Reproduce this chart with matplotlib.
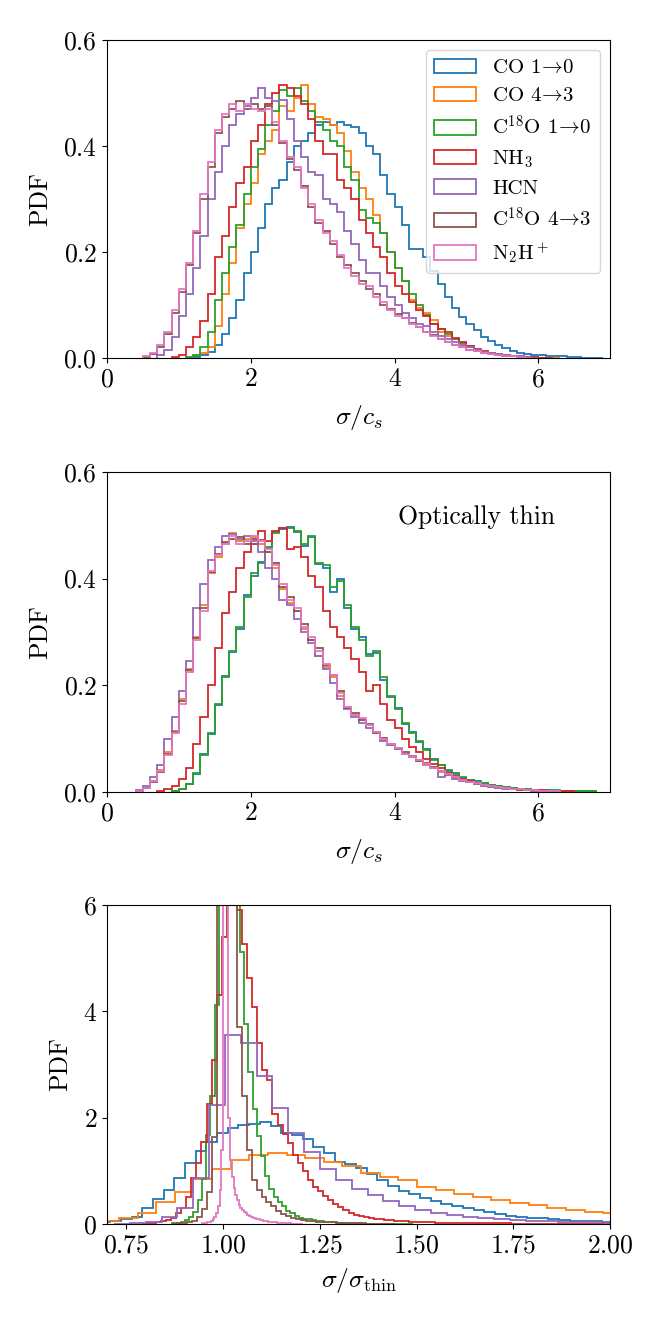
"""
Velocity dispersion PDFs for the different tracers.
"""

import numpy as np
import matplotlib
matplotlib.use('Agg')
import matplotlib.pyplot as plt

labels = ['CO 1$\\!\\rightarrow\\!$0', 'CO 4$\\!\\rightarrow\\!$3', 'C$^{18}$O 1$\\!\\rightarrow\\!$0', 'NH$_3$',
          'HCN', 'C$^{18}$O 4$\\!\\rightarrow\\!$3', 'N$_2$H$^+$']
colors = ['C0', 'C1', 'C2', 'C3', 'C4', 'C5', 'C6']

# ---- top panel: sigma / c_s, bins of 0.1 (start edge, values)
width_cs = 0.1
co10_cs = (1.2, [0.002, 0.005, 0.012, 0.025, 0.045, 0.075, 0.11, 0.16, 0.20, 0.245, 0.29, 0.32, 0.335, 0.37,
                 0.40, 0.41, 0.425, 0.44, 0.445, 0.44, 0.445, 0.44, 0.435, 0.425, 0.40, 0.385, 0.345, 0.31,
                 0.285, 0.25, 0.205, 0.205, 0.19, 0.165, 0.14, 0.115, 0.095, 0.078, 0.065, 0.053, 0.04,
                 0.032, 0.024, 0.018, 0.013, 0.01, 0.008, 0.006, 0.005, 0.004, 0.003, 0.003, 0.002, 0.002,
                 0.001, 0.001, 0.001])
co43_cs = (1.1, [0.002, 0.005, 0.01, 0.02, 0.06, 0.12, 0.18, 0.245, 0.29, 0.33, 0.385, 0.41, 0.43, 0.475,
                 0.465, 0.49, 0.515, 0.48, 0.455, 0.45, 0.44, 0.425, 0.39, 0.35, 0.32, 0.30, 0.27, 0.235,
                 0.20, 0.17, 0.145, 0.11, 0.095, 0.085, 0.072, 0.05, 0.042, 0.035, 0.026, 0.02, 0.015,
                 0.012, 0.009, 0.007, 0.005, 0.004, 0.003, 0.002, 0.002, 0.001, 0.001, 0.001])
c18o10_cs = (1.1, [0.002, 0.005, 0.02, 0.05, 0.11, 0.16, 0.21, 0.25, 0.31, 0.36, 0.395, 0.44, 0.465, 0.505,
                   0.495, 0.51, 0.485, 0.465, 0.445, 0.43, 0.41, 0.40, 0.36, 0.335, 0.28, 0.265, 0.255,
                   0.235, 0.20, 0.17, 0.145, 0.12, 0.10, 0.082, 0.065, 0.055, 0.045, 0.036, 0.028, 0.022,
                   0.016, 0.012, 0.009, 0.007, 0.005, 0.004, 0.003, 0.002, 0.001, 0.001])
nh3_cs = (0.9, [0.002, 0.005, 0.02, 0.04, 0.07, 0.12, 0.19, 0.23, 0.285, 0.33, 0.36, 0.41, 0.44, 0.48, 0.50,
                0.515, 0.51, 0.495, 0.48, 0.45, 0.41, 0.385, 0.385, 0.335, 0.32, 0.30, 0.26, 0.235, 0.21,
                0.19, 0.16, 0.135, 0.12, 0.105, 0.09, 0.08, 0.065, 0.055, 0.05, 0.038, 0.03, 0.022, 0.017,
                0.013, 0.01, 0.008, 0.006, 0.004, 0.003, 0.002, 0.002, 0.001, 0.001])
hcn_cs = (0.7, [0.005, 0.015, 0.04, 0.08, 0.12, 0.17, 0.23, 0.30, 0.35, 0.40, 0.44, 0.46, 0.475, 0.49, 0.51,
                0.49, 0.485, 0.487, 0.45, 0.41, 0.38, 0.35, 0.345, 0.30, 0.29, 0.275, 0.24, 0.215, 0.185,
                0.16, 0.16, 0.135, 0.115, 0.10, 0.085, 0.075, 0.065, 0.06, 0.05, 0.042, 0.036, 0.03, 0.025,
                0.02, 0.015, 0.012, 0.009, 0.007, 0.005, 0.004, 0.003, 0.002, 0.001])
c18o43_cs = (0.5, [0.002, 0.008, 0.02, 0.045, 0.085, 0.125, 0.175, 0.235, 0.30, 0.36, 0.425, 0.455, 0.47,
                   0.485, 0.47, 0.48, 0.47, 0.475, 0.44, 0.405, 0.375, 0.355, 0.325, 0.285, 0.255, 0.24,
                   0.215, 0.19, 0.175, 0.16, 0.145, 0.13, 0.12, 0.10, 0.092, 0.083, 0.075, 0.067, 0.058,
                   0.05, 0.043, 0.036, 0.03, 0.025, 0.02, 0.016, 0.013, 0.01, 0.008, 0.006, 0.004, 0.003,
                   0.002, 0.001])
n2h_cs = (0.5, [0.003, 0.01, 0.025, 0.05, 0.09, 0.13, 0.18, 0.24, 0.31, 0.37, 0.43, 0.46, 0.48, 0.465, 0.48,
                0.47, 0.465, 0.47, 0.445, 0.41, 0.38, 0.36, 0.32, 0.29, 0.26, 0.235, 0.22, 0.195, 0.17,
                0.155, 0.14, 0.135, 0.115, 0.105, 0.09, 0.08, 0.075, 0.065, 0.058, 0.05, 0.042, 0.035, 0.03,
                0.025, 0.02, 0.016, 0.013, 0.01, 0.008, 0.006, 0.004, 0.003, 0.002, 0.001])

# ---- middle panel: optically thin sigma / c_s
co10_thin = (0.9, [0.002, 0.006, 0.014, 0.034, 0.072, 0.108, 0.163, 0.218, 0.262, 0.305, 0.37, 0.405,
                   0.432, 0.458, 0.487, 0.493, 0.497, 0.487, 0.462, 0.478, 0.428, 0.42, 0.375, 0.40, 0.345,
                   0.305, 0.29, 0.258, 0.26, 0.21, 0.178, 0.158, 0.128, 0.112, 0.093, 0.08, 0.062, 0.05,
                   0.04, 0.035, 0.027, 0.023, 0.02, 0.016, 0.013, 0.011, 0.009, 0.008, 0.006, 0.005, 0.004,
                   0.003, 0.003, 0.002, 0.002, 0.002, 0.001, 0.001, 0.001])
co43_thin = (0.4, [0.002, 0.007, 0.02, 0.042, 0.075, 0.115, 0.175, 0.23, 0.29, 0.35, 0.41, 0.44, 0.465,
                   0.485, 0.47, 0.475, 0.478, 0.465, 0.45, 0.42, 0.38, 0.355, 0.34, 0.305, 0.285, 0.255,
                   0.235, 0.215, 0.18, 0.16, 0.145, 0.135, 0.125, 0.11, 0.098, 0.088, 0.08, 0.072, 0.065,
                   0.058, 0.05, 0.044, 0.038, 0.032, 0.027, 0.022, 0.018, 0.015, 0.012, 0.01, 0.008, 0.007,
                   0.005, 0.004, 0.003, 0.002, 0.002, 0.001, 0.001])
c18o10_thin = (0.9, [0.002, 0.006, 0.015, 0.035, 0.07, 0.11, 0.165, 0.215, 0.265, 0.31, 0.365, 0.41, 0.43,
                     0.46, 0.485, 0.495, 0.495, 0.49, 0.465, 0.48, 0.43, 0.425, 0.385, 0.395, 0.35, 0.31,
                     0.285, 0.255, 0.265, 0.215, 0.18, 0.155, 0.13, 0.11, 0.095, 0.078, 0.06, 0.05, 0.042,
                     0.034, 0.028, 0.023, 0.019, 0.016, 0.013, 0.011, 0.009, 0.007, 0.006, 0.005, 0.004,
                     0.004, 0.003, 0.003, 0.002, 0.002, 0.001, 0.001, 0.001])
nh3_thin = (0.7, [0.002, 0.006, 0.012, 0.025, 0.045, 0.09, 0.14, 0.20, 0.27, 0.335, 0.375, 0.42, 0.45, 0.465,
                  0.49, 0.47, 0.49, 0.495, 0.455, 0.46, 0.44, 0.405, 0.385, 0.34, 0.31, 0.29, 0.27, 0.25,
                  0.225, 0.19, 0.20, 0.165, 0.135, 0.12, 0.10, 0.085, 0.075, 0.062, 0.052, 0.045, 0.036,
                  0.03, 0.025, 0.02, 0.016, 0.013, 0.011, 0.009, 0.007, 0.006, 0.005, 0.004, 0.003, 0.003,
                  0.002, 0.002, 0.001, 0.001])
hcn_thin = (0.4, [0.003, 0.012, 0.028, 0.05, 0.10, 0.14, 0.19, 0.245, 0.345, 0.39, 0.435, 0.46, 0.48, 0.483,
                  0.475, 0.48, 0.47, 0.45, 0.42, 0.40, 0.36, 0.35, 0.325, 0.30, 0.28, 0.255, 0.23, 0.205,
                  0.175, 0.155, 0.14, 0.13, 0.12, 0.112, 0.095, 0.088, 0.08, 0.072, 0.068, 0.06, 0.055,
                  0.045, 0.028, 0.032, 0.025, 0.021, 0.018, 0.015, 0.012, 0.01, 0.008, 0.006, 0.005, 0.004,
                  0.003, 0.002, 0.001])
c18o43_thin = (0.4, [0.002, 0.007, 0.018, 0.038, 0.072, 0.112, 0.17, 0.228, 0.288, 0.345, 0.412, 0.447,
                     0.468, 0.475, 0.478, 0.465, 0.475, 0.472, 0.45, 0.43, 0.385, 0.365, 0.34, 0.315, 0.285,
                     0.27, 0.238, 0.22, 0.19, 0.158, 0.148, 0.135, 0.128, 0.11, 0.102, 0.09, 0.083, 0.074,
                     0.066, 0.058, 0.053, 0.046, 0.039, 0.034, 0.028, 0.023, 0.019, 0.016, 0.013, 0.011,
                     0.009, 0.007, 0.006, 0.004, 0.003, 0.003, 0.002, 0.001, 0.001])
n2h_thin = (0.4, [0.002, 0.008, 0.02, 0.04, 0.07, 0.11, 0.165, 0.225, 0.285, 0.34, 0.415, 0.445, 0.465, 0.48,
                  0.465, 0.47, 0.48, 0.47, 0.455, 0.425, 0.39, 0.36, 0.345, 0.31, 0.29, 0.265, 0.24, 0.22,
                  0.185, 0.16, 0.145, 0.138, 0.125, 0.112, 0.10, 0.09, 0.082, 0.072, 0.066, 0.06, 0.052,
                  0.045, 0.04, 0.033, 0.028, 0.023, 0.019, 0.016, 0.013, 0.011, 0.009, 0.007, 0.006, 0.005,
                  0.004, 0.003, 0.002, 0.002, 0.001])

# ---- bottom panel: sigma / sigma_thin (start edge, bin width, values)
co10_ratio = (0.681, 0.0276, [0.03, 0.05, 0.09, 0.13, 0.30, 0.47, 0.64, 0.86, 1.14, 1.38, 1.55, 1.72, 1.80,
                              1.86, 1.89, 1.92, 1.84, 1.71, 1.67, 1.59, 1.45, 1.34, 1.17, 1.13, 1.05, 0.94,
                              0.82, 0.72, 0.62, 0.56, 0.48, 0.43, 0.38, 0.33, 0.30, 0.26, 0.22, 0.19, 0.16,
                              0.14, 0.12, 0.11, 0.09, 0.075, 0.065, 0.055, 0.048, 0.045])
co43_ratio = (0.683, 0.0481, [0.06, 0.11, 0.20, 0.42, 0.61, 0.84, 1.04, 1.20, 1.30, 1.33, 1.30, 1.25, 1.17,
                              1.09, 0.96, 0.88, 0.83, 0.69, 0.64, 0.56, 0.50, 0.45, 0.39, 0.35, 0.30, 0.26,
                              0.23, 0.20])
c18o10_ratio = (0.869, 0.0109, [0.01, 0.02, 0.04, 0.08, 0.14, 0.22, 0.45, 0.85, 1.68, 2.40, 4.12, 8.5, 12.0,
                                13.0, 11.0, 8.5, 5.12, 3.77, 2.86, 2.17, 1.65, 1.27, 0.90, 0.66, 0.50, 0.42,
                                0.34, 0.25, 0.20, 0.16, 0.12, 0.10, 0.085, 0.07, 0.06, 0.05, 0.04, 0.035,
                                0.03, 0.025, 0.02, 0.017, 0.015, 0.012, 0.01, 0.009, 0.008, 0.007, 0.006,
                                0.005, 0.004, 0.004, 0.003, 0.003, 0.002, 0.002, 0.001])
nh3_ratio = (0.787, 0.0131, [0.005, 0.01, 0.02, 0.03, 0.05, 0.07, 0.11, 0.20, 0.30, 0.51, 0.86, 1.15, 1.55,
                             2.25, 3.09, 4.30, 5.40, 7.6, 7.9, 5.9, 5.26, 4.62, 4.08, 3.40, 2.90, 2.70, 2.06,
                             1.87, 1.70, 1.53, 1.30, 1.15, 0.99, 0.83, 0.70, 0.63, 0.52, 0.45, 0.38, 0.32,
                             0.26, 0.20, 0.17, 0.15, 0.13, 0.11, 0.095, 0.085, 0.075, 0.07, 0.06, 0.055,
                             0.05, 0.045, 0.04, 0.038, 0.035, 0.03, 0.028, 0.026, 0.024, 0.022, 0.02, 0.019,
                             0.018, 0.016, 0.015, 0.014, 0.013, 0.012, 0.011, 0.01, 0.01, 0.009, 0.008,
                             0.008, 0.007, 0.007, 0.006, 0.006, 0.005, 0.005, 0.005, 0.004, 0.004, 0.004,
                             0.003, 0.003, 0.003, 0.003, 0.002, 0.002, 0.002])
hcn_ratio = (0.7187, 0.0409, [0.003, 0.01, 0.04, 0.13, 0.30, 0.87, 2.23, 3.55, 3.40, 2.78, 2.18, 1.71, 1.36,
                              1.03, 0.83, 0.66, 0.55, 0.43, 0.33, 0.26, 0.20, 0.17, 0.14, 0.12, 0.094, 0.075,
                              0.065, 0.055, 0.045, 0.04, 0.03, 0.025])
c18o43_ratio = (0.869, 0.0128, [0.005, 0.01, 0.02, 0.04, 0.06, 0.13, 0.28, 0.60, 1.64, 9.0, 14.0, 15.0, 10.0,
                                3.70, 2.40, 1.40, 0.83, 0.64, 0.50, 0.42, 0.33, 0.25, 0.19, 0.15, 0.12, 0.10,
                                0.08, 0.065, 0.055, 0.045, 0.04, 0.035, 0.03, 0.025, 0.02, 0.017, 0.015,
                                0.012, 0.01, 0.008, 0.006, 0.005, 0.004, 0.003, 0.002])
n2h_ratio = (0.946, 0.0045, [0.01, 0.015, 0.02, 0.03, 0.04, 0.06, 0.09, 0.13, 0.20, 0.33, 0.64, 1.4, 7.0,
                             14.0, 9.0, 2.0, 1.2, 0.89, 0.67, 0.55, 0.45, 0.36, 0.30, 0.26, 0.22, 0.20,
                             0.17, 0.15, 0.14, 0.12, 0.11, 0.10, 0.09, 0.08, 0.07, 0.065, 0.06, 0.05, 0.045,
                             0.04, 0.035, 0.03, 0.03, 0.025, 0.02, 0.02, 0.015, 0.015, 0.012, 0.01, 0.01,
                             0.008, 0.007, 0.006, 0.005, 0.004, 0.003, 0.002])

top_series = [co10_cs, co43_cs, c18o10_cs, nh3_cs, hcn_cs, c18o43_cs, n2h_cs]
mid_series = [co10_thin, co43_thin, c18o10_thin, nh3_thin, hcn_thin, c18o43_thin, n2h_thin]
bot_series = [co10_ratio, co43_ratio, c18o10_ratio, nh3_ratio, hcn_ratio, c18o43_ratio, n2h_ratio]


def step_hist(ax, start, width, vals, color, label=None):
    vals = np.asarray(vals)
    edges = start + width * np.arange(len(vals) + 1)
    centers = 0.5 * (edges[:-1] + edges[1:])
    ax.hist(centers, bins=edges, weights=vals, histtype='step', color=color, lw=1.3, label=label)


if __name__ == "__main__":
    plt.rcParams['font.family'] = 'serif'
    plt.rcParams['font.serif'] = ['cmr10']
    plt.rcParams['mathtext.fontset'] = 'cm'
    plt.rcParams['axes.formatter.use_mathtext'] = True
    plt.rcParams['font.size'] = 18.5

    fig = plt.figure(figsize=(6.64, 13.29), dpi=100)
    ax1 = fig.add_axes([0.161, 0.7306, 0.758, 0.2394])
    ax2 = fig.add_axes([0.161, 0.4041, 0.758, 0.2408])
    ax3 = fig.add_axes([0.161, 0.0790, 0.758, 0.2400])

    for (start, vals), c, lab in zip(top_series, colors, labels):
        step_hist(ax1, start, width_cs, vals, c, lab)
    for (start, vals), c in zip(mid_series, colors):
        step_hist(ax2, start, width_cs, vals, c)
    for (start, w, vals), c in zip(bot_series, colors):
        step_hist(ax3, start, w, vals, c)

    for ax in (ax1, ax2):
        ax.set_xlim(0, 7)
        ax.set_ylim(0, 0.6)
        ax.set_xticks([0, 2, 4, 6])
        ax.set_yticks([0.0, 0.2, 0.4, 0.6])
        ax.set_xlabel(r'$\sigma/c_s$', labelpad=8)
        ax.set_ylabel('PDF', labelpad=8)

    ax1.legend(loc='upper right', fontsize=15, labelspacing=0.45)
    ax2.text(0.735, 0.86, 'Optically thin', transform=ax2.transAxes, ha='center', va='center')

    ax3.set_xlim(0.7, 2.0)
    ax3.set_ylim(0, 6)
    ax3.set_xticks([0.75, 1.0, 1.25, 1.5, 1.75, 2.0])
    ax3.set_yticks([0, 2, 4, 6])
    ax3.set_xlabel(r'$\sigma/\sigma_{\rm thin}$', labelpad=6)
    ax3.set_ylabel('PDF', labelpad=8)

    fig.savefig('out.png', dpi=100)
